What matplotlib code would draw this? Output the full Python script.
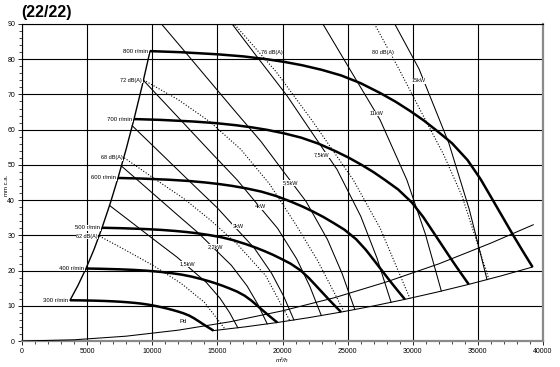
import matplotlib
matplotlib.use('Agg')
import matplotlib.pyplot as plt
from matplotlib.ticker import MultipleLocator

plt.rcParams['font.family'] = ['Liberation Sans', 'DejaVu Sans']

# ---------------- data (flow m3/h, pressure mm c.a.) ----------------
speed_labels = ['800 r/min', '700 r/min', '600 r/min', '500 r/min', '400 r/min', '300 r/min']
q800 = [9830, 12130, 15000, 17000, 18790, 20200, 21500, 23000, 24500, 26000, 27500, 28700,
        29800, 30850, 31850, 33000, 34200, 35200, 36100, 36900, 37700, 38450, 39200]
p800 = [82.3, 82.0, 81.4, 80.8, 80.0, 79.2, 78.3, 77.0, 75.4, 73.2, 70.4, 67.9,
        65.3, 62.6, 59.7, 56.2, 51.4, 46.0, 40.3, 35.2, 30.1, 25.5, 21.0]
q700 = [8601, 10614, 13125, 14875, 16441, 17675, 18813, 20125, 21438, 22750, 24063, 25113,
        26075, 26994, 27869, 28875, 29925, 30800, 31588, 32288, 32988, 33644, 34300]
p700 = [63.01, 62.78, 62.32, 61.86, 61.25, 60.64, 59.95, 58.95, 57.73, 56.04, 53.90, 51.99,
        50.00, 47.93, 45.71, 43.03, 39.35, 35.22, 30.85, 26.95, 23.05, 19.52, 16.08]
q600 = [7373, 9098, 11250, 12750, 14093, 15150, 16125, 17250, 18375, 19500, 20625, 21525,
        22350, 23138, 23888, 24750, 25650, 26400, 27075, 27675, 28275, 28838, 29400]
p600 = [46.29, 46.13, 45.79, 45.45, 45.0, 44.55, 44.04, 43.31, 42.41, 41.18, 39.6, 38.19,
        36.73, 35.21, 33.58, 31.61, 28.91, 25.88, 22.67, 19.8, 16.93, 14.34, 11.81]
q500 = [6144, 7581, 9375, 10625, 11744, 12625, 13438, 14375, 15313, 16250, 17188, 17938,
        18625, 19281, 19906, 20625, 21375, 22000, 22563, 23063, 23563, 24031, 24500]
p500 = [32.15, 32.03, 31.80, 31.56, 31.25, 30.94, 30.59, 30.08, 29.45, 28.59, 27.5, 26.52,
        25.51, 24.45, 23.32, 21.95, 20.08, 17.97, 15.74, 13.75, 11.76, 9.96, 8.20]
q400 = [4915, 6065, 7500, 8500, 9395, 10100, 10750, 11500, 12250, 13000, 13750, 14350,
        14900, 15425, 15925, 16500, 17100, 17600, 18050, 18450, 18850, 19225, 19600]
p400 = [20.58, 20.5, 20.35, 20.2, 20.0, 19.8, 19.58, 19.25, 18.85, 18.3, 17.6, 16.98,
        16.33, 15.65, 14.93, 14.05, 12.85, 11.5, 10.08, 8.8, 7.53, 6.38, 5.25]
q300 = [3686, 4549, 5625, 6375, 7046, 7575, 8063, 8625, 9188, 9750, 10313, 10763,
        11175, 11569, 11944, 12375, 12825, 13200, 13538, 13838, 14138, 14419, 14700]
p300 = [11.57, 11.53, 11.45, 11.36, 11.25, 11.14, 11.01, 10.83, 10.60, 10.29, 9.9, 9.55,
        9.18, 8.80, 8.40, 7.90, 7.23, 6.47, 5.67, 4.95, 4.23, 3.59, 2.95]

# minimum-flow (left) limit and maximum-flow (lower) limit
q_stall = [3690, 4300, 4915, 5530, 6140, 6760, 7370, 7990, 8600, 9220, 9830]
p_stall = [11.6, 15.8, 20.6, 26.0, 32.1, 38.9, 46.3, 54.4, 63.0, 72.4, 82.3]
q_limit = [14700, 17150, 19600, 22050, 24500, 26950, 29400, 31850, 34300, 36750, 39200]
p_limit = [2.95, 4.02, 5.25, 6.65, 8.21, 9.93, 11.82, 13.87, 16.08, 18.46, 21.0]

# dynamic pressure curve
q_pd = [0, 4000, 8000, 12000, 16000, 20000, 24000, 28000, 32000, 36000, 39250]
p_pd = [0, 0.34, 1.37, 3.08, 5.48, 8.57, 12.3, 16.8, 21.9, 27.8, 33.0]

# absorbed power lines
power_labels = ['1,5kW', '2,2kW', '3kW', '4kW', '5,5kW', '7,5kW', '11kW', '15kW']
q_1k5 = [6721, 7932, 9302, 10600, 11898, 13052, 14148, 15208, 15937, 16571]
p_1k5 = [38.48, 35.05, 31.15, 27.46, 23.82, 20.12, 16.64, 12.12, 8.06, 3.75]
q_2k2 = [7636, 9012, 10569, 12044, 13518, 14829, 16075, 17279, 18107, 18827]
p_2k2 = [49.67, 45.24, 40.21, 35.44, 30.74, 25.98, 21.48, 15.64, 10.40, 4.85]
q_3k = [8468, 9994, 11720, 13356, 14991, 16445, 17826, 19162, 20079, 20879]
p_3k = [61.09, 55.64, 49.45, 43.59, 37.81, 31.95, 26.42, 19.23, 12.79, 5.96]
q_4k = [9320, 11000, 12900, 14700, 16500, 18100, 19620, 21090, 22100, 22980]
p_4k = [74.0, 67.4, 59.9, 52.8, 45.8, 38.7, 32.0, 23.3, 15.5, 7.22]
q_5k5 = [10364, 12232, 14345, 16346, 18348, 20127, 21817, 23452, 24575, 25554]
p_5k5 = [91.5, 83.35, 74.07, 65.29, 56.64, 47.86, 39.57, 28.81, 19.17, 8.93]
q_7k5 = [15907, 18127, 20346, 22319, 24193, 26006, 27252, 28337]
p_7k5 = [91.08, 80.29, 69.64, 58.85, 48.66, 35.43, 23.57, 10.98]
q_11k = [20595, 23117, 25358, 27488, 29547, 30962, 32195]
p_11k = [103.6, 89.90, 75.97, 62.81, 45.74, 30.43, 14.17]
q_15k = [28120, 30482, 32765, 34335, 35702]
p_15k = [93.41, 77.24, 56.24, 37.41, 17.43]

# sound level lines
db_labels = ['62 dB(A)', '68 dB(A)', '72 dB(A)', '76 dB(A)', '80 dB(A)']
q_62 = [5940, 8000, 10090, 12200, 14000, 15600]
p_62 = [29.8, 25.7, 21.4, 16.4, 11.0, 3.33]
q_68 = [7850, 10200, 12400, 14440, 16500, 18700, 20560]
p_68 = [52.0, 46.0, 40.5, 34.4, 27.6, 18.6, 5.78]
q_72 = [9330, 12000, 14440, 16800, 19000, 21100, 22700, 24720]
p_72 = [74.1, 68.5, 62.2, 54.4, 44.6, 32.6, 22.8, 8.37]
q_76 = [15000, 16360, 19500, 22250, 25440, 27500, 29780]
p_76 = [95.3, 89.7, 76.5, 62.7, 45.7, 32.0, 12.1]
q_80 = [26650, 27110, 29000, 30570, 32360, 33800, 35840]
p_80 = [93.0, 89.7, 76.8, 65.6, 53.0, 41.0, 17.6]

x_ticks = [0, 5000, 10000, 15000, 20000, 25000, 30000, 35000, 40000]
y_ticks = [0, 10, 20, 30, 40, 50, 60, 70, 80, 90]

# ---------------- figure ----------------
fig = plt.figure(figsize=(5.6, 3.67), dpi=100)
ax = fig.add_axes([22 / 560, 26 / 367, 521 / 560, 317 / 367])
ax.set_xlim(0, 40000)
ax.set_ylim(0, 90)
ax.set_xticks(x_ticks)
ax.set_xticklabels([str(v) for v in x_ticks])
ax.set_yticks(y_ticks)
ax.set_yticklabels([str(v) for v in y_ticks])
ax.xaxis.set_minor_locator(MultipleLocator(1000))
ax.yaxis.set_minor_locator(MultipleLocator(2))
ax.grid(True, which='major', color='black', lw=0.8)
ax.set_axisbelow(True)
ax.tick_params(which='major', direction='out', labelsize=5, length=3, width=0.6, pad=2)
ax.tick_params(which='minor', direction='out', length=2, width=0.5)
for sp in ax.spines.values():
    sp.set_linewidth(0.8)
ax.spines['right'].set_color('#8a8a8a')
ax.spines['right'].set_linewidth(1.6)
ax.spines['bottom'].set_color('#8a8a8a')
ax.spines['bottom'].set_linewidth(1.6)

thin = dict(color='black', lw=0.75, zorder=3)
dot = dict(color='black', lw=0.8, ls=(0, (1, 1.6)), zorder=3)

# power lines
power_series = [(q_1k5, p_1k5), (q_2k2, p_2k2), (q_3k, p_3k), (q_4k, p_4k),
                (q_5k5, p_5k5), (q_7k5, p_7k5), (q_11k, p_11k), (q_15k, p_15k)]
for q, p in power_series:
    ax.plot(q, p, **thin)

# sound lines
db_series = [(q_62, p_62), (q_68, p_68), (q_72, p_72), (q_76, p_76), (q_80, p_80)]
for q, p in db_series:
    ax.plot(q, p, **dot)

# limits and Pd
ax.plot(q_stall, p_stall, color='black', lw=1.0, zorder=4)
ax.plot(q_limit, p_limit, **thin)
ax.plot(q_pd, p_pd, **thin)

# speed curves
speed_series = [(q800, p800), (q700, p700), (q600, p600), (q500, p500), (q400, p400), (q300, p300)]
for (q, p), lab in zip(speed_series, speed_labels):
    ax.plot(q, p, color='black', lw=1.8, zorder=5, solid_capstyle='butt', solid_joinstyle='round')
    ax.annotate(lab, xy=(q[0], p[0]), xytext=(-1.2, 0), textcoords='offset points',
                ha='right', va='center', fontsize=4.3, zorder=6,
                bbox=dict(facecolor='white', edgecolor='none', pad=0.2))

box = dict(facecolor='white', edgecolor='none', pad=0.3)
power_label_pos = [(12710, 21.9), (14860, 26.8), (16590, 32.6), (18280, 38.1),
                   (20580, 44.8), (23020, 52.8), (27190, 64.6), (30490, 73.9)]
for lab, (x, y) in zip(power_labels, power_label_pos):
    ax.text(x, y, lab, fontsize=4.0, ha='center', va='center', zorder=6, bbox=box)

# dB labels: first three at the start of their line, last two free
for lab, (q, p) in zip(db_labels[:3], db_series[:3]):
    ax.annotate(lab, xy=(q[0], p[0]), xytext=(-1.0, 0), textcoords='offset points',
                ha='right', va='center', fontsize=4.0, zorder=6, bbox=box)
ax.text(19200, 82.05, db_labels[3], fontsize=4.0, ha='center', va='center', zorder=6, bbox=box)
ax.text(27725, 82.05, db_labels[4], fontsize=4.0, ha='center', va='center', zorder=6, bbox=box)

ax.text(12340, 5.5, 'Pd', fontsize=4.3, ha='center', va='center', zorder=6)

fig.text(21 / 560, 1 - 13 / 367, '(22/22)', fontsize=11.5, fontweight='bold', ha='left', va='center')
fig.text(7 / 560, 1 - 185 / 367, 'mm c.a.', rotation=90, fontsize=4.3, ha='center', va='center')
fig.text(282 / 560, 1 - 360 / 367, 'm³/h', fontsize=4.5, style='italic', ha='center', va='center')

fig.savefig('out.png', dpi=100)
